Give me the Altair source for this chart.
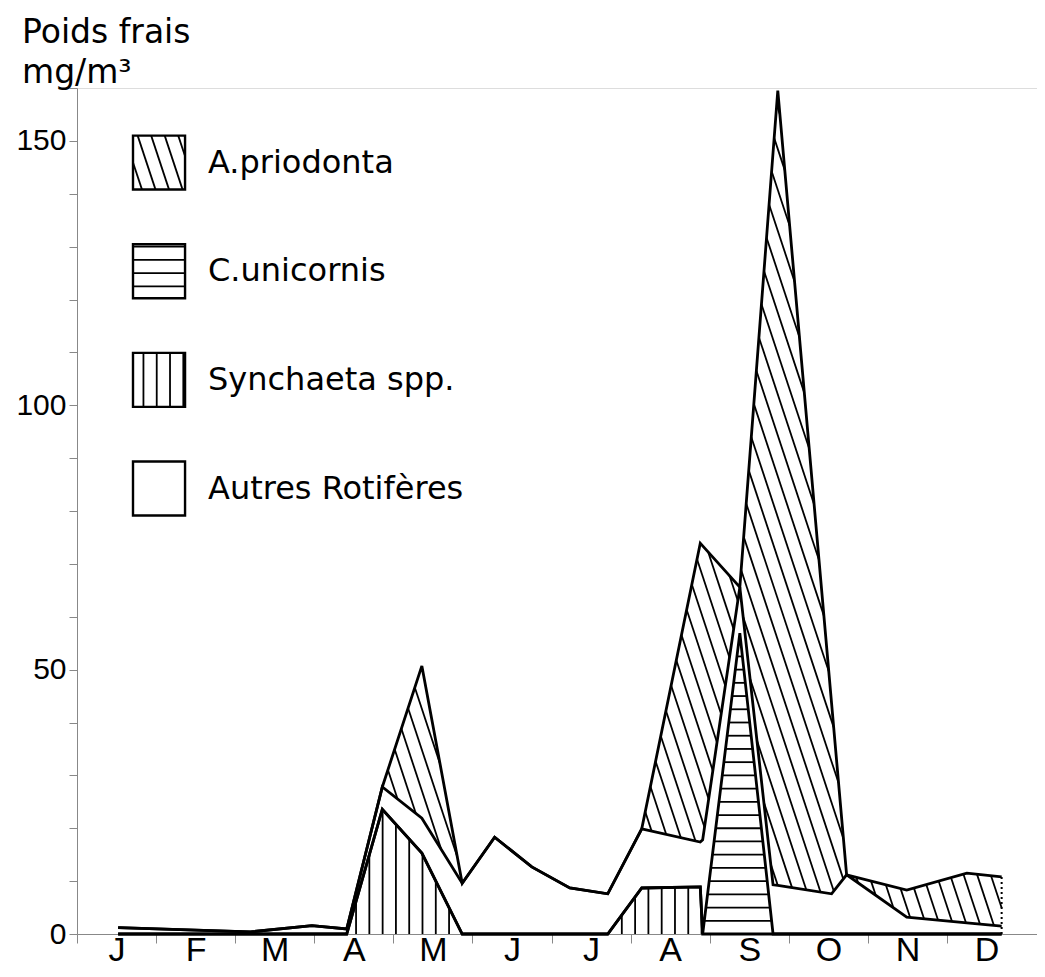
import altair as alt
import numpy as np
import pandas as pd

FONT = "DejaVu Sans"

# ---- data (months from 1 January; fresh weight mg/m3) ----
sample_pos = [0.52, 2.19, 2.97, 3.41, 3.86, 4.36, 4.87, 5.28, 5.75, 6.23, 6.71,
              7.14, 7.88, 7.91, 8.38, 8.80, 8.86, 9.54, 9.73, 10.49, 11.25, 11.69]
synchaeta = [0, 0, 0, 0, 23.6, 15.3, 0, 0, 0, 0, 0,
             8.7, 8.9, 0, 0, 0, 0, 0, 0, 0, 0, 0]
c_unicornis = [0, 0, 0, 0, 0, 0, 0, 0, 0, 0, 0,
               0, 0, 0, 56.9, 0, 0, 0, 0, 0, 0, 0]
autres = [1.2, 0.4, 1.6, 0.95, 4.2, 6.6, 9.6, 18.3, 12.7, 8.7, 7.6,
          11.2, 8.5, 17.8, 8.7, 9.3, 9.2, 7.6, 11.2, 3.2, 2.1, 1.5]
a_priodonta = [0, 0, 0, 0, 0, 28.8, 0, 0, 0, 0, 0,
               0, 56.5, 55.6, 0, 138.5, 150.3, 36.0, 0, 5.1, 9.4, 9.3]

month_labels = ["J", "F", "M", "A", "M", "J", "J", "A", "S", "O", "N", "D"]
legend_labels = ["A.priodonta", "C.unicornis", "Synchaeta spp.", "Autres Rotifères"]
legend_hatch = ["d", "h", "v", "none"]

# ---- layout / style constants ----
X_MAX = 12.137
Y_MAX = 160
V_STEP = 0.168      # vertical hatch spacing (months)
H_STEP = 2.5        # horizontal hatch spacing (mg/m3)
D_STEP = 0.171      # diagonal hatch spacing (months)
SLOPE = 0.0221      # diagonal hatch: months per mg/m3
LEG_X0, LEG_X1, LEG_TX = 0.708, 1.366, 1.656
LEG_TOP, LEG_STEP, LEG_H = 151.0, 20.55, 10.2

x = np.array(sample_pos, float)
b1 = np.array(synchaeta, float)
b2 = b1 + np.array(c_unicornis, float)
b3 = b2 + np.array(autres, float)
b4 = b3 + np.array(a_priodonta, float)


def runs(mask):
    m = np.concatenate([[0], mask.astype(int), [0]])
    d = np.diff(m)
    return list(zip(np.where(d == 1)[0], np.where(d == -1)[0] - 1))


def hatch(xg, lo, hi, kind):
    xg = np.asarray(xg, float)
    lo = np.asarray(lo, float)
    hi = np.asarray(hi, float)
    x0, x1 = xg[0], xg[-1]
    rows = []
    if kind == "v":
        for c in np.arange(np.ceil(x0 / V_STEP) * V_STEP, x1, V_STEP):
            l, h = np.interp(c, xg, lo), np.interp(c, xg, hi)
            if h - l > 0.4:
                rows.append((c, l, c, h))
    elif kind == "h":
        xx = np.linspace(x0, x1, 6000)
        L, H = np.interp(xx, xg, lo), np.interp(xx, xg, hi)
        for c in np.arange(H_STEP, Y_MAX, H_STEP):
            for s, e in runs((L < c) & (H > c)):
                if xx[e] - xx[s] > 0.02:
                    rows.append((xx[s], c, xx[e], c))
    elif kind == "d":
        yy = np.linspace(0, Y_MAX, 6400)
        for c in np.arange(np.floor(x0 / D_STEP) * D_STEP,
                           x1 + SLOPE * Y_MAX + D_STEP, D_STEP):
            xx = c - SLOPE * yy
            ok = (xx >= x0) & (xx <= x1)
            L, H = np.interp(xx, xg, lo), np.interp(xx, xg, hi)
            for s, e in runs(ok & (yy > L) & (yy < H)):
                if yy[e] - yy[s] > 0.6:
                    rows.append((xx[s], yy[s], xx[e], yy[e]))
    return rows


hatch_rows = []
hatch_rows += hatch(x, np.zeros_like(b1), b1, "v")
hatch_rows += hatch(x, b1, b2, "h")
hatch_rows += hatch(x, b3, b4, "d")

leg_rows = []
for i, (lab, k) in enumerate(zip(legend_labels, legend_hatch)):
    top = LEG_TOP - i * LEG_STEP
    bot = top - LEG_H
    leg_rows.append({"x": LEG_X0, "x2": LEG_X1, "y": bot, "y2": top,
                     "tx": LEG_TX, "ty": (top + bot) / 2, "label": lab})
    if k != "none":
        hatch_rows += hatch([LEG_X0, LEG_X1], [bot, bot], [top, top], k)

hatch_df = pd.DataFrame(hatch_rows, columns=["x", "y", "x2", "y2"])
leg_df = pd.DataFrame(leg_rows)

out_rows = []
for name, b in [("synchaeta", b1), ("cunicornis", b2), ("autres", b3), ("total", b4)]:
    for i, (xi, yi) in enumerate(zip(x, b)):
        out_rows.append({"x": xi, "y": yi, "b": name, "i": i})
out_df = pd.DataFrame(out_rows)
end_df = pd.DataFrame({"x": [x[-1]], "y": [0.0], "y2": [b4[-1]]})

# ---- scales & axes ----
xs = alt.Scale(domain=[0, X_MAX], nice=False, zero=False)
ys = alt.Scale(domain=[0, Y_MAX], nice=False)
month_expr = "[" + ",".join("'%s'" % m for m in month_labels) + "][datum.value]"
x_axis = alt.Axis(values=list(range(12)), labelExpr=month_expr, title=None,
                  labelOffset=39.5, labelFontSize=34, labelPadding=17,
                  labelBaseline="alphabetic", labelOverlap=False, labelFlush=False,
                  tickSize=9, grid=False)
y_axis = alt.Axis(values=list(range(0, 161, 10)),
                  labelExpr="datum.value % 50 === 0 ? datum.label : ''",
                  title=None, labelFontSize=30, labelPadding=3, tickSize=8,
                  labelOverlap=False, grid=False)


def X(f):
    return alt.X(f, type="quantitative", scale=xs, axis=x_axis)


def Y(f):
    return alt.Y(f, type="quantitative", scale=ys, axis=y_axis)


hatch_layer = alt.Chart(hatch_df).mark_rule(color="black", strokeWidth=1.8).encode(
    x=X("x"), y=Y("y"), x2="x2", y2="y2")

outline_layer = alt.Chart(out_df).mark_line(color="black", strokeWidth=2.8,
                                            strokeJoin="miter").encode(
    x=X("x"), y=Y("y"), detail="b:N", order="i:Q")

end_layer = alt.Chart(end_df).mark_rule(color="black", strokeWidth=2,
                                        strokeDash=[2, 3]).encode(
    x=X("x"), y=Y("y"), y2="y2")

box_layer = alt.Chart(leg_df).mark_rect(fill="transparent", stroke="black",
                                        strokeWidth=2.4).encode(
    x=X("x"), x2="x2", y=Y("y"), y2="y2")

text_layer = alt.Chart(leg_df).mark_text(align="left", baseline="middle",
                                         fontSize=32, font=FONT, color="black").encode(
    x=X("tx"), y=Y("ty"), text="label:N")

chart = alt.layer(hatch_layer, outline_layer, end_layer, box_layer, text_layer).properties(
    width=960, height=846,
    title=alt.TitleParams(["Poids frais", "mg/m³"], anchor="start", frame="group",
                          dx=-55, dy=17, offset=0, fontSize=33, fontWeight="normal",
                          lineHeight=40, font=FONT, color="black"),
    padding={"left": 69, "top": 80, "right": 0, "bottom": 33},
    autosize=alt.AutoSizeParams(type="none"),
).configure_view(stroke="transparent", strokeWidth=0, strokeOpacity=0).configure_axis(
    domainColor="black", domainWidth=3, tickColor="black", tickWidth=2,
    labelColor="black", labelFont=FONT, grid=False, gridOpacity=0,
).configure(background="white")

chart.save("out.html", embed_options={"renderer": "svg", "actions": False})
